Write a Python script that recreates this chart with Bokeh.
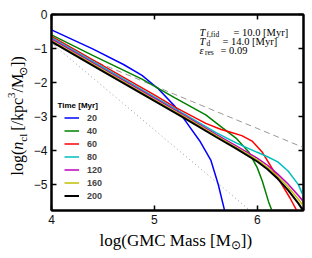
import math
from bokeh.plotting import figure
from bokeh.layouts import row, column
from bokeh.models import (Range1d, FixedTicker, LinearAxis, Label, Legend, LegendItem,
                          CustomJSTickFormatter)
from bokeh.embed import file_html
from bokeh.resources import INLINE

# ---------------- data ----------------
x_ticks = [4, 5, 6]
y_ticks = [0, -1, -2, -3, -4, -5]

times = ["20", "40", "60", "80", "120", "160", "200"]
colors = ["#0000ff", "#008000", "#ff0000", "#00bfbf", "#bf00bf", "#bfbf00", "#000000"]

mass_20 = [4.0, 4.4, 4.7, 4.88, 5.04, 5.2, 5.3, 5.44, 5.55, 5.62, 5.69]
ncl_20 = [-0.45, -1.01, -1.47, -1.79, -2.19, -2.70, -3.12, -3.71, -4.29, -4.98, -5.85]

mass_40 = [4.0, 4.4, 4.88, 5.2, 5.5, 5.65, 5.8, 5.92, 6.0, 6.05, 6.11, 6.16]
ncl_40 = [-0.60, -1.20, -1.90, -2.45, -2.95, -3.30, -3.65, -4.05, -4.50, -4.90, -5.50, -5.90]

mass_60 = [4.0, 4.5, 5.0, 5.2, 5.5, 5.65, 5.75, 5.85, 5.95, 6.05, 6.13, 6.22, 6.32, 6.40]
ncl_60 = [-0.64, -1.50, -2.36, -2.72, -3.20, -3.38, -3.47, -3.56, -3.72, -4.05, -4.45, -4.90, -5.40, -5.85]

mass_80 = [4.0, 4.5, 5.0, 5.3, 5.6, 5.8, 6.0, 6.1, 6.2, 6.3, 6.4, 6.45]
ncl_80 = [-0.68, -1.55, -2.42, -2.94, -3.47, -3.78, -4.05, -4.18, -4.33, -4.60, -5.00, -5.35]

mass_120 = [4.0, 4.5, 5.0, 5.3, 5.6, 5.8, 6.0, 6.1, 6.2, 6.3, 6.4, 6.45]
ncl_120 = [-0.72, -1.59, -2.46, -2.98, -3.52, -3.87, -4.22, -4.43, -4.69, -4.98, -5.32, -5.50]

mass_160 = [4.0, 4.5, 5.0, 5.3, 5.6, 5.8, 6.0, 6.1, 6.2, 6.3, 6.4, 6.45]
ncl_160 = [-0.76, -1.63, -2.50, -3.02, -3.56, -3.91, -4.27, -4.49, -4.76, -5.07, -5.43, -5.63]

mass_200 = [4.0, 4.5, 5.0, 5.3, 5.6, 5.8, 6.0, 6.1, 6.2, 6.3, 6.4, 6.45]
ncl_200 = [-0.80, -1.67, -2.54, -3.06, -3.60, -3.95, -4.32, -4.55, -4.83, -5.16, -5.55, -5.78]

ref_dash_mass = [4.0, 6.45]
ref_dash_ncl = [-0.85, -3.91]
ref_dot_mass = [4.0, 5.95]
ref_dot_ncl = [-0.84, -5.81]

series = [(mass_20, ncl_20), (mass_40, ncl_40), (mass_60, ncl_60), (mass_80, ncl_80),
          (mass_120, ncl_120), (mass_160, ncl_160), (mass_200, ncl_200)]

SANS = "Liberation Sans"
SERIF = "Liberation Serif"
H = 252
LEFT_W = 30
MAIN_W = 275
MAIN_H = 230
BOT_H = H - MAIN_H

# ---------------- main figure ----------------
p = figure(width=MAIN_W, height=MAIN_H, x_range=Range1d(4, 6.45), y_range=Range1d(-5.76, 0),
           output_backend="svg", toolbar_location=None,
           min_border_left=19, min_border_right=2, min_border_top=14, min_border_bottom=20)
p.xgrid.visible = False
p.ygrid.visible = False
p.outline_line_color = "black"
p.outline_line_width = 2
p.background_fill_color = "white"
p.border_fill_color = "white"

for ax, ticks in ((p.xaxis[0], x_ticks), (p.yaxis[0], y_ticks)):
    ax.ticker = FixedTicker(ticks=ticks)
    ax.major_tick_in = 5
    ax.major_tick_out = 0
    ax.minor_tick_line_color = None
    ax.axis_line_width = 2
    ax.major_tick_line_width = 1.5
    ax.major_label_text_font = SANS
    ax.major_label_text_font_size = "12px"
    ax.major_label_text_color = "#111111"
    ax.major_label_standoff = 4

for side, ticks in (("above", x_ticks), ("right", y_ticks)):
    ax = LinearAxis(ticker=FixedTicker(ticks=ticks),
                    formatter=CustomJSTickFormatter(code="return ''"))
    ax.major_tick_in = 5
    ax.major_tick_out = 0
    ax.minor_tick_line_color = None
    ax.axis_line_width = 2
    ax.major_tick_line_width = 1.5
    ax.major_label_text_font_size = "1px"
    ax.major_label_standoff = 0
    p.add_layout(ax, side)

# reference power laws
p.line(ref_dash_mass, ref_dash_ncl, line_color="#999999", line_width=1, line_dash="6 4")
p.line(ref_dot_mass, ref_dot_ncl, line_color="#999999", line_width=1, line_dash="1 3")

items = []
for (xs, ys), t, c in zip(series, times, colors):
    r = p.line(xs, ys, line_color=c, line_width=2 if t == "200" else 1.5)
    items.append(LegendItem(label=t, renderers=[r]))

legend = Legend(items=items, location=(13, 8), glyph_width=15, glyph_height=13,
                label_height=13, label_standoff=8, spacing=0, padding=0, margin=0,
                border_line_color=None, background_fill_alpha=0,
                label_text_font=SANS, label_text_font_size="9px",
                label_text_font_style="bold")
p.add_layout(legend)


def lab(fig, x, y, text, size, font=SERIF, style="normal", angle=0.0):
    fig.add_layout(Label(x=x, y=y, x_units="screen", y_units="screen", text=text,
                         text_font=font, text_font_size=size, text_font_style=style,
                         text_baseline="middle", text_align="left", angle=angle,
                         text_color="black"))

# legend title
lab(p, 6, 105, "Time [Myr]", "8px", font=SANS, style="bold")

# parameter annotation (top right)
lab(p, 148, 178.5, "T", "10.5px", style="italic")
lab(p, 155, 176, "f,fid", "7.5px")
lab(p, 182, 178.5, "= 10.0 [Myr]", "10.5px")
lab(p, 148, 169.3, "T", "10.5px", style="italic")
lab(p, 155, 167, "d", "7.5px")
lab(p, 171, 169.3, "= 14.0 [Myr]", "10.5px")
lab(p, 148, 160, "\u03b5", "10.5px", style="italic")
lab(p, 153.5, 158, "res", "7.5px")
lab(p, 169, 160, "= 0.09", "10.5px")


def strip(w, h):
    f = figure(width=w, height=h, x_range=Range1d(0, 1), y_range=Range1d(0, 1),
               output_backend="svg", toolbar_location=None, min_border=0,
               x_axis_location=None, y_axis_location=None)
    f.grid.visible = False
    f.outline_line_color = None
    f.background_fill_color = "white"
    f.border_fill_color = "white"
    return f

# ---------------- y-axis title strip ----------------
pl = strip(LEFT_W, MAIN_H)
A = math.pi / 2
YM, YS = 16, 11
# (text, font px, approx em width, offset across baseline, style, gap after)
ypieces = [("log(", YM, 1.611, 0, "normal", 0),
           ("n", YM, 0.5, 0, "italic", 0),
           ("cl", YS, 0.722, 5, "normal", 3),
           ("[/kpc", YM, 2.055, 0, "normal", 0),
           ("3", YS, 0.5, -6, "normal", 0),
           ("/M", YM, 1.167, 0, "normal", -2),
           ("\u2299", YS, 0.8, 5, "normal", 0),
           ("])", YM, 0.666, 0, "normal", 0)]
pos = 195.0  # page y where the label begins (bottom)
for text, size, em, dx, style, gap in ypieces:
    lab(pl, 17 + dx, MAIN_H - pos, text, f"{size}px", style=style, angle=A)
    pos -= size * em + gap

# ---------------- x-axis title strip ----------------
XM, XS = 17, 12
pb = strip(LEFT_W + MAIN_W, BOT_H)
xpieces = [("log(GMC Mass [M", XM, 7.92, 0, "normal", -3),
           ("\u2299", XS, 0.8, -4, "normal", 0),
           ("])", XM, 0.666, 0, "normal", 0)]
xpos = 99.0  # page x where the label begins
for text, size, em, dy, style, gap in xpieces:
    lab(pb, xpos, 12 + dy, text, f"{size}px", style=style)
    xpos += size * em + gap

layout = column(row(pl, p, spacing=0), pb, spacing=0)
open("out.html", "w").write(file_html(layout, INLINE))
